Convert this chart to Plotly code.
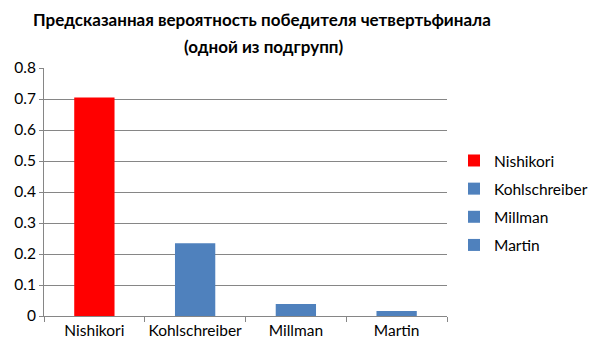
import plotly.graph_objects as go

categories = ["Nishikori", "Kohlschreiber", "Millman", "Martin"]
values = [0.705, 0.235, 0.039, 0.016]
colors = ["#FF0000", "#4F81BD", "#4F81BD", "#4F81BD"]
y_ticks = [0, 0.1, 0.2, 0.3, 0.4, 0.5, 0.6, 0.7, 0.8]
title_line1 = "Предсказанная вероятность победителя четвертьфинала"
title_line2 = "(одной из подгрупп)"

FONT = "Lato, Open Sans, sans-serif"
FS = 15.5

fig = go.Figure()
for i, (c, v, col) in enumerate(zip(categories, values, colors)):
    fig.add_trace(go.Bar(
        x=[c], y=[v], name=c, marker=dict(color=col, line=dict(width=0)),
        width=0.4, legendgroup=f"g{i}",
    ))

W, H = 595, 361
L, R, T, B = 44, 148, 68, 45

title_font = dict(family="Lato, Open Sans, sans-serif", size=17, color="#000000")
fig.add_annotation(text="<b>" + title_line1 + "</b>", xref="paper", yref="paper",
                   x=(262 - L) / (W - L - R), y=1 + (T - 19) / (H - T - B),
                   xanchor="center", yanchor="middle", showarrow=False, font=title_font)
fig.add_annotation(text="<b>" + title_line2 + "</b>", xref="paper", yref="paper",
                   x=(263 - L) / (W - L - R), y=1 + (T - 46) / (H - T - B),
                   xanchor="center", yanchor="middle", showarrow=False, font=title_font)

fig.update_layout(
    width=W, height=H,
    margin=dict(l=L, r=R, t=T, b=B, autoexpand=False),
    paper_bgcolor="white", plot_bgcolor="white",
    barmode="overlay",
    font=dict(family=FONT, size=FS, color="#000000"),
    showlegend=True,
    legend=dict(
        x=454 / W, xref="container", xanchor="left",
        y=0.456, yanchor="middle",
        font=dict(family=FONT, size=FS, color="#000000"),
        tracegroupgap=5,
        itemwidth=30,
        bgcolor="rgba(0,0,0,0)",
    ),
    xaxis=dict(
        categoryorder="array", categoryarray=categories,
        showline=True, linecolor="#868686", linewidth=1,
        ticks="outside", tickson="boundaries", ticklen=5, tickcolor="#868686",
        tickangle=0, automargin=False,
        showgrid=False, tickfont=dict(family=FONT, size=FS, color="#000000"),
    ),
    yaxis=dict(
        range=[0, 0.8], tickvals=y_ticks,
        ticktext=[f"{t:g}" for t in y_ticks],
        showline=True, linecolor="#868686", linewidth=1,
        ticks="outside", ticklen=4, tickcolor="#868686",
        automargin=False,
        showgrid=True, gridcolor="#868686", gridwidth=1,
        zeroline=False,
        tickfont=dict(family=FONT, size=FS, color="#000000"),
    ),
)

fig.write_html("out.html", config={"displayModeBar": False},
               post_script="document.body.style.margin='0';document.body.style.padding='0';")
